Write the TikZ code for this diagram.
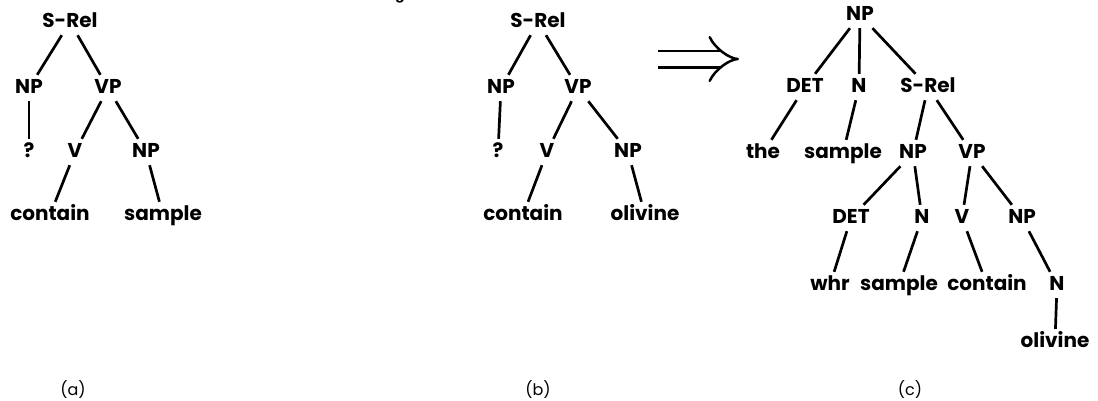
\documentclass[tikz,border=0pt]{standalone}
\usepackage{fontspec}
\setmainfont{Poppins}
\newfontfamily\typefont{Liberation Mono}
\usetikzlibrary{arrows.meta}
\begin{document}
\begin{tikzpicture}[x=1pt, y=-1pt,
    category/.style ={font=\fontsize{20}{23}\selectfont\bfseries, inner sep=3.5pt, text height=14.5pt, text depth=4.5pt},
    caption/.style ={font=\fontsize{16}{19}\selectfont},
    branch/.style ={line width=2.7pt}]
   \useasboundingbox (0,0) rectangle (1098,400);
   \node[font=\typefont\fontsize{17}{20}\selectfont\bfseries] (fig) at (415,-5) {Figure 4};

   % tree (a)
   \node[category] (A)  at (70,22)   {S-Rel};
   \node[category] (B)  at (29,88)   {NP};
   \node[category] (C)  at (108,88)  {VP};
   \node[category] (D)  at (29,152)  {?};
   \node[category] (E)  at (75,152)  {V};
   \node[category] (F)  at (146,152) {NP};
   \node[category] (G)  at (50,215)  {contain};
   \node[category] (H)  at (163,215) {sample};
   \node[caption]  (capA) at (73,390) {(a)};

   \draw[branch] (A) to (B);
   \draw[branch] (A) to (C);
   \draw[branch] (B) to (D);
   \draw[branch] (C) to (E);
   \draw[branch] (C) to (F);
   \draw[branch] (E) to (G);
   \draw[branch] (F) to (H);

   % tree (b)
   \node[category] (A2)  at (538,22)  {S-Rel};
   \node[category] (B2)  at (501,88)  {NP};
   \node[category] (C2)  at (578,88)  {VP};
   \node[category] (D2)  at (498,152) {?};
   \node[category] (E2)  at (547,152) {V};
   \node[category] (F2)  at (628,152) {NP};
   \node[category] (G2)  at (523,215) {contain};
   \node[category] (H2)  at (645,215) {olivine};
   \node[caption]  (capB) at (538,390) {(b)};

   \draw[branch] (A2) to (B2);
   \draw[branch] (A2) to (C2);
   \draw[branch] (B2) to (D2);
   \draw[branch] (C2) to (E2);
   \draw[branch] (C2) to (F2);
   \draw[branch] (E2) to (G2);
   \draw[branch] (F2) to (H2);

   % transformation arrow
   \coordinate (from) at (658,59);
   \coordinate (to)   at (739,59);
   \draw[line width=2.5pt, double, double distance=14pt, -{Implies}] (from) -- (to);

   % tree (c)
   \node[category] (P)  at (860,15)   {NP};
   \node[category] (Q)  at (805,87)   {DET};
   \node[category] (R)  at (859,87)   {N};
   \node[category] (S)  at (928,87)   {S-Rel};
   \node[category] (T)  at (763,153)  {the};
   \node[category] (U)  at (843,153)  {sample};
   \node[category] (V)  at (913,153)  {NP};
   \node[category] (W)  at (972,153)  {VP};
   \node[category] (X)  at (851,218)  {DET};
   \node[category] (Y)  at (922,218)  {N};
   \node[category] (Z)  at (962,218)  {V};
   \node[category] (K)  at (1022,218) {NP};
   \node[category] (L)  at (830,285)  {whr};
   \node[category] (M)  at (899,285)  {sample};
   \node[category] (N)  at (987,285)  {contain};
   \node[category] (O)  at (1057,285) {N};
   \node[category] (J)  at (1055,342) {olivine};
   \node[caption]  (capC) at (910,390) {(c)};

   \draw[branch] (P) to (Q);
   \draw[branch] (P) to (R);
   \draw[branch] (P) to (S);
   \draw[branch] (Q) to (T);
   \draw[branch] (R) to (U);
   \draw[branch] (S) to (V);
   \draw[branch] (S) to (W);
   \draw[branch] (V) to (X);
   \draw[branch] (V) to (Y);
   \draw[branch] (W) to (Z);
   \draw[branch] (W) to (K);
   \draw[branch] (X) to (L);
   \draw[branch] (Y) to (M);
   \draw[branch] (Z) to (N);
   \draw[branch] (K) to (O);
   \draw[branch] (O) to (J);

 \end{tikzpicture}
\end{document}
